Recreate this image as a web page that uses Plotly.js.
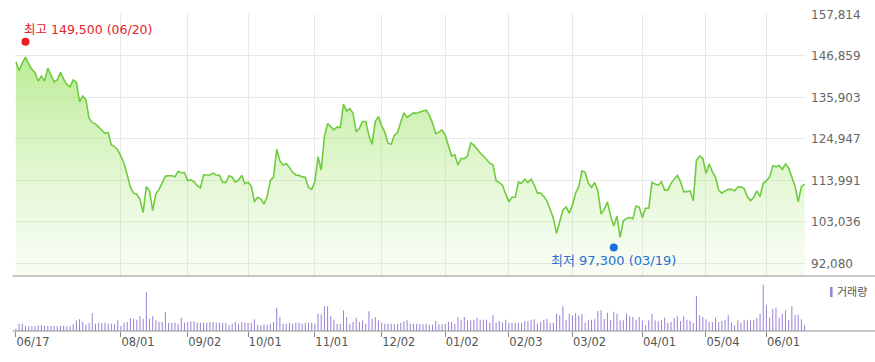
<!DOCTYPE html>
<html>
<head>
<meta charset="utf-8">
<script src="https://cdn.plot.ly/plotly-3.0.1.min.js"></script>
<style>html,body{margin:0;padding:0;background:#fff;}#chart{width:875px;height:362px;}</style>
</head>
<body>
<div id="chart"></div>
<script>
// Daily closing prices, 2019-06-17 .. 2020-06-17 (one value per trading day)
const closePrices = [
145300,142900,145000,146500,144700,143300,142400,140200,141500,140200,
143600,141800,140000,140500,142500,140700,139300,138700,140500,139900,
134700,136200,135200,130400,129200,128900,128000,127100,126400,126600,
123300,122900,122000,120400,118500,115400,112100,110600,110300,109000,
105500,112300,111200,106000,110400,111600,113200,115100,115200,115200,
114900,116400,116000,116000,113900,114100,113600,112600,112000,115400,
115400,115400,115900,115400,115300,113500,113400,115200,114800,113500,
114000,115300,113100,113500,112500,108300,109500,109100,107700,109700,
113900,114900,122200,119100,118000,118400,117400,116100,115400,115300,
114900,114800,112100,111600,113600,120200,116700,125500,129000,128100,
127300,128100,127900,134100,132300,132900,131700,126800,127700,129500,
129500,125800,123500,129500,130800,128400,126700,123800,123500,125800,
126600,129300,131800,130600,131200,131800,131700,132100,132300,132500,
131200,129100,126300,126700,127300,125900,122900,120400,120700,118000,
119800,119700,120400,123900,123300,122200,121200,120400,119300,118500,
118100,113900,113400,112700,110400,108300,109500,109500,113500,113200,
114300,113400,114300,112700,110600,110600,109700,108500,106300,104000,
100000,103100,106100,107000,105300,107500,110600,112300,116500,116100,
113200,112100,113400,111200,105100,106300,108300,104600,101900,104600,
98900,103300,103900,104200,103800,107200,106900,104200,106600,106600,
113400,113000,112700,113600,111400,111400,113200,114300,115300,113600,
111000,111000,111200,108600,119300,120400,119800,115800,118300,116300,
114800,111400,110600,111200,111600,111600,111200,112200,112300,111800,
109700,108600,109500,111200,109700,113200,113900,114900,117800,117600,
117900,116900,118300,117200,114800,112500,108300,112300,113000
];

// Relative daily volume (no scale shown on the chart)
const volumes = [
7,22,22,15,14,15,15,17,17,16,
15,15,15,14,16,16,14,14,20,32,
35,27,19,24,54,22,25,24,25,22,
22,20,32,15,25,27,39,36,34,44,
37,116,37,44,32,28,27,57,25,24,
25,22,39,25,27,29,29,25,25,25,
25,27,27,25,25,25,25,17,22,27,
22,27,25,24,25,35,19,17,20,19,
22,27,70,42,22,22,25,22,25,25,
22,25,25,25,22,52,50,74,74,44,
34,22,22,62,42,22,27,40,27,32,
22,59,37,42,32,25,22,22,22,20,
22,25,29,32,22,22,22,20,20,22,
19,19,30,20,20,22,27,27,22,42,
34,42,32,32,34,40,34,34,34,25,
47,25,30,25,34,25,25,25,25,25,
30,30,34,35,22,27,34,37,25,25,
52,47,74,32,52,47,54,47,52,25,
32,34,35,60,62,37,55,34,58,52,
32,32,52,44,42,34,42,32,17,32,
52,32,30,32,40,25,27,40,44,30,
44,34,30,25,104,47,42,35,27,27,
40,27,30,34,47,25,17,32,25,34,
32,32,32,40,52,139,77,40,67,70,
40,52,62,34,74,49,49,35,17
];

// Month tick labels and the trading-day index at which each falls
const tickLabels = ['06/17','08/01','09/02','10/01','11/01','12/02','01/02','02/03','03/02','04/01','05/04','06/01'];
const tickIndex  = [0,33,54,73,94,115,135,155,175,197,217,236];

// Price axis ticks
const priceTicks = [92080,103036,113991,124947,135903,146859,157814];

// Period high / low (intraday)
const highPoint = {label:'06/20', index:3, value:149500};
const lowPoint  = {label:'03/19', index:188, value:97300};

const FONT = "'DejaVu Sans', 'Noto Sans CJK KR', sans-serif";
const fmt = v => v.toLocaleString('en-US');

const volTop = 0.1735;

const traces = [
  {
    type:'scatter', mode:'lines', y: closePrices, xaxis:'x', yaxis:'y',
    line:{color:'#6fcc3e', width:1.6},
    fill:'tozeroy',
    fillgradient:{type:'vertical', start:88727, stop:147000,
      colorscale:[[0,'rgba(200,240,170,0.12)'],[1,'rgba(150,225,90,0.66)']]},
    hoverinfo:'skip', showlegend:false
  },
  {
    type:'bar', y: volumes, xaxis:'x2', yaxis:'y2',
    marker:{color:'#9d86d6', line:{width:0}}, width:0.33,
    hoverinfo:'skip', showlegend:false
  }
];

const layout = {
  width:875, height:362,
  margin:{l:15, r:69, t:14, b:31},
  paper_bgcolor:'#fff', plot_bgcolor:'#fff',
  font:{family:FONT, size:12, color:'#666'},
  showlegend:false,
  xaxis:{domain:[0,1], anchor:'y', range:[-0.3,248.45],
    tickvals:tickIndex, showticklabels:false, ticks:'',
    showgrid:true, gridcolor:'#e8e8e8', gridwidth:1, zeroline:false, showline:false},
  yaxis:{domain:[volTop,1], anchor:'x', side:'right', range:[88727,157893],
    tickvals:priceTicks, tickformat:',d', ticks:'', ticklabelstandoff:4,
    tickfont:{family:FONT, size:12, color:'#666'},
    showgrid:true, gridcolor:'#e8e8e8', gridwidth:1, zeroline:false, showline:false},
  xaxis2:{domain:[0,1], anchor:'y2', matches:'x',
    tickvals:tickIndex, ticktext:tickLabels, ticks:'outside', ticklen:5, tickcolor:'#888',
    ticklabelposition:'outside right',
    tickfont:{family:FONT, size:11.5, color:'#555'},
    showgrid:false, zeroline:false, showline:false},
  yaxis2:{domain:[0,volTop], anchor:'x2', range:[0,165],
    showticklabels:false, ticks:'', showgrid:false, zeroline:false, showline:false},
  shapes:[
    {type:'line', xref:'paper', yref:'paper', x0:-0.003, x1:1.09, y0:volTop, y1:volTop,
      line:{color:'#8f8f8f', width:1}},
    {type:'line', xref:'paper', yref:'paper', x0:-0.003, x1:1.09, y0:0, y1:0,
      line:{color:'#8f8f8f', width:1}},
    {type:'circle', xref:'x', yref:'y', xsizemode:'pixel', ysizemode:'pixel',
      xanchor:highPoint.index, yanchor:highPoint.value, x0:-4, x1:4, y0:0, y1:8,
      fillcolor:'#ee1c24', line:{width:0}},
    {type:'circle', xref:'x', yref:'y', xsizemode:'pixel', ysizemode:'pixel',
      xanchor:lowPoint.index, yanchor:lowPoint.value, x0:-4, x1:4, y0:-8, y1:0,
      fillcolor:'#1e6fdc', line:{width:0}},
    {type:'rect', xref:'paper', yref:'paper', x0:1.0303, x1:1.0336, y0:0.107, y1:0.139,
      fillcolor:'#9d86d6', line:{width:0}}
  ],
  annotations:[
    {xref:'x', yref:'y', x:highPoint.index, y:highPoint.value, xanchor:'left', yanchor:'middle',
      xshift:-3.5, yshift:16.5, showarrow:false,
      text:'최고 '+fmt(highPoint.value)+' ('+highPoint.label+')',
      font:{family:FONT, size:12.5, color:'#e8202a'}},
    {xref:'x', yref:'y', x:lowPoint.index, y:lowPoint.value, xanchor:'center', yanchor:'middle',
      yshift:-17, showarrow:false,
      text:'최저 '+fmt(lowPoint.value)+' ('+lowPoint.label+')',
      font:{family:FONT, size:13, color:'#2a6fd6'}},
    {xref:'paper', yref:'paper', x:1.0367, y:0.1215, xanchor:'left', yanchor:'middle',
      showarrow:false, text:'거래량', font:{family:FONT, size:11, color:'#555'}}
  ]
};

Plotly.newPlot('chart', traces, layout, {displayModeBar:false, staticPlot:true});
</script>
</body>
</html>
